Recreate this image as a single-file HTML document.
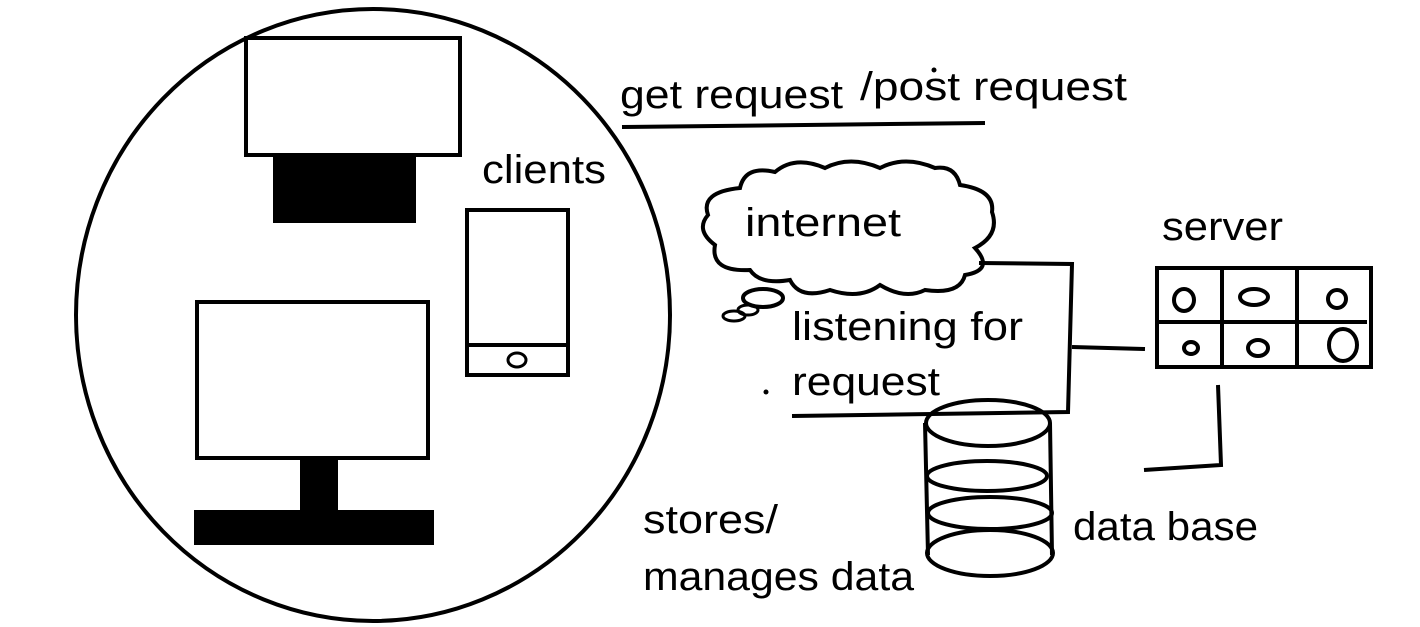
<!DOCTYPE html>
<html><head><style>html,body{margin:0;padding:0;background:#fff}svg{display:block}</style></head><body>
<svg width="1420" height="627" viewBox="0 0 1420 627" xmlns="http://www.w3.org/2000/svg">
<g fill="none" stroke="#000" stroke-width="4">
<ellipse cx="373" cy="315" rx="297" ry="306"/>
<rect x="246" y="38" width="214" height="117"/>
<rect x="467" y="210" width="101" height="165"/>
<line x1="467" y1="345" x2="568" y2="345"/>
<ellipse cx="517" cy="360" rx="9" ry="7" stroke-width="3"/>
<rect x="197" y="302" width="231" height="156"/>
<path d="M622 127 L985 123"/>
<path d="M740 188 Q745 165 775 172 Q795 155 825 168 Q850 155 880 168 Q905 155 935 168 Q955 165 960 185 Q995 190 992 212 Q1000 235 975 248 Q995 270 965 275 Q960 295 925 290 Q905 300 880 285 Q860 300 830 290 Q800 300 790 280 Q760 285 750 270 Q710 272 715 245 Q695 230 708 215 Q700 192 740 188 Z"/>
<ellipse cx="763" cy="298" rx="20" ry="9"/>
<ellipse cx="748" cy="310" rx="10" ry="5" stroke-width="3"/>
<ellipse cx="734" cy="316" rx="11" ry="5" stroke-width="3"/>
<path d="M979 263 L1072 264 L1068 412 L792 416"/>
<path d="M1072 347 L1145 349"/>
<rect x="1157" y="268" width="214" height="99"/>
<path d="M1222 268 V367 M1297 268 V367 M1157 322 H1367"/>
<ellipse cx="1184" cy="300" rx="10" ry="11"/>
<ellipse cx="1254" cy="297" rx="14" ry="8"/>
<ellipse cx="1337" cy="299" rx="9" ry="9"/>
<ellipse cx="1191" cy="348" rx="7" ry="6"/>
<ellipse cx="1258" cy="348" rx="10" ry="8"/>
<ellipse cx="1343" cy="345" rx="14" ry="16"/>
<path d="M1218 385 L1221 465 L1144 470"/>
<ellipse cx="988" cy="423" rx="62" ry="23"/>
<ellipse cx="987" cy="476" rx="60" ry="15"/>
<ellipse cx="990" cy="513" rx="62" ry="16"/>
<ellipse cx="990" cy="553" rx="63" ry="23"/>
<path d="M925 423 L928 555 M1050 423 L1052 555"/>
</g>
<g fill="#000">
<rect x="273" y="155" width="143" height="68"/>
<rect x="300" y="458" width="38" height="52"/>
<rect x="194" y="510" width="240" height="35"/>
<circle cx="766" cy="392" r="2.5"/>
<circle cx="934" cy="70" r="2.5"/>
</g>
<g font-family="'Liberation Sans', sans-serif" font-size="40" fill="#000">
<text x="482" y="183" textLength="124" lengthAdjust="spacingAndGlyphs">clients</text>
<text x="620" y="108" textLength="223" lengthAdjust="spacingAndGlyphs">get request</text>
<text x="860" y="100" textLength="267" lengthAdjust="spacingAndGlyphs">/post request</text>
<text x="745" y="236" textLength="156" lengthAdjust="spacingAndGlyphs">internet</text>
<text x="792" y="340" textLength="231" lengthAdjust="spacingAndGlyphs">listening for</text>
<text x="792" y="395" textLength="148" lengthAdjust="spacingAndGlyphs">request</text>
<text x="1162" y="240" textLength="121" lengthAdjust="spacingAndGlyphs">server</text>
<text x="1073" y="540" textLength="185" lengthAdjust="spacingAndGlyphs">data base</text>
<text x="643" y="533" textLength="135" lengthAdjust="spacingAndGlyphs">stores/</text>
<text x="643" y="590" textLength="271" lengthAdjust="spacingAndGlyphs">manages data</text>
</g>
</svg>
</body></html>
